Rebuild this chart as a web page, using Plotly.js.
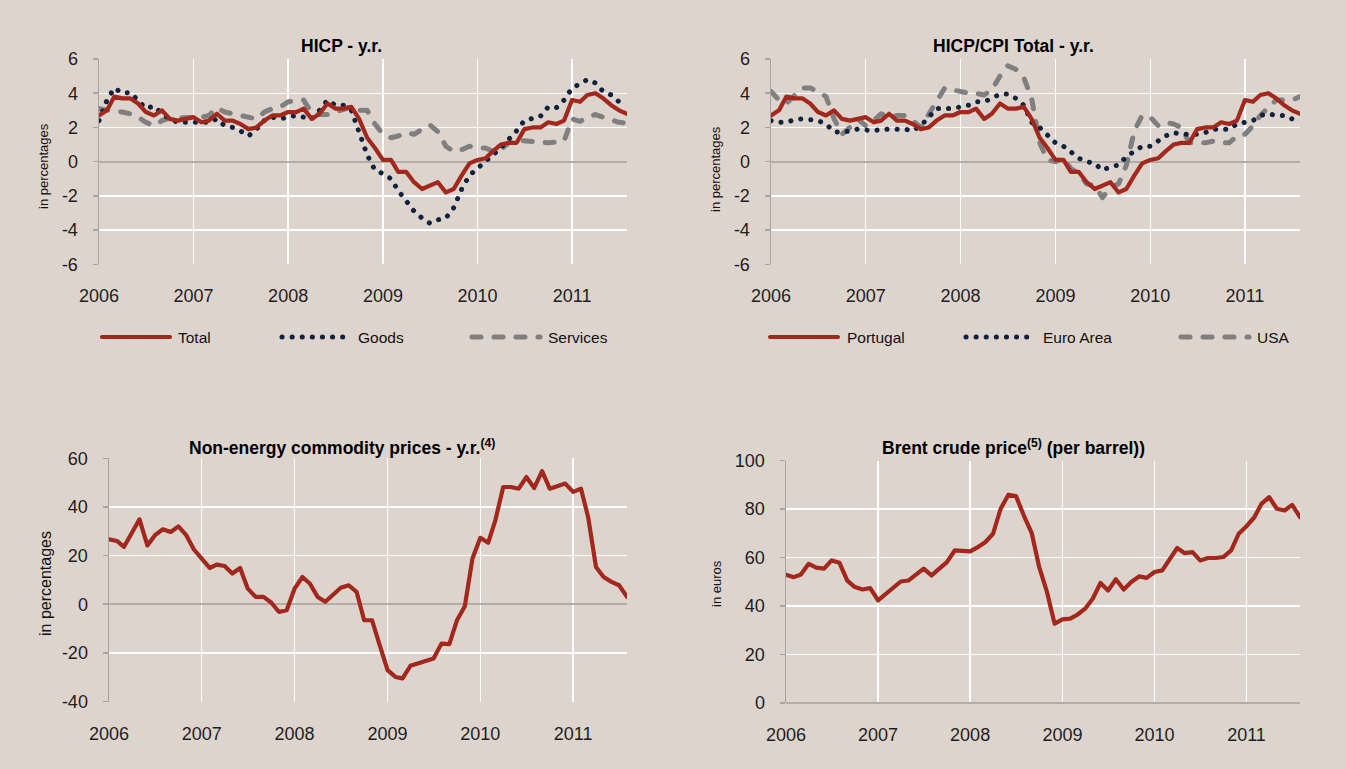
<!DOCTYPE html>
<html>
<head>
<meta charset="utf-8">
<script src="https://cdn.plot.ly/plotly-3.0.1.min.js"></script>
<style>
  html, body { margin: 0; padding: 0; background: #DED4CE; }
  #chart { width: 1345px; height: 769px; }
  .js-line, .shapelayer path { stroke-linecap: round !important; stroke-linejoin: round !important; }
</style>
</head>
<body>
<div id="chart"></div>
<script>
// ---------- data (monthly, Jan 2006 – Aug 2011) ----------
const months = [];
for (let y = 2006; y <= 2011; y++) {
  for (let m = 1; m <= 12; m++) {
    if (y === 2011 && m > 8) break;
    months.push(y + '-' + String(m).padStart(2, '0') + '-01');
  }
}
const yearTicks = ['2006-01-01','2007-01-01','2008-01-01','2009-01-01','2010-01-01','2011-01-01'];
const yearLabels = ['2006','2007','2008','2009','2010','2011'];

const hicpTotal = [2.7,3.0,3.8,3.7,3.7,3.4,2.9,2.7,3.0,2.5,2.4,2.5,
  2.6,2.3,2.4,2.8,2.4,2.4,2.2,1.9,2.0,2.4,2.7,2.7,
  2.9,2.9,3.1,2.5,2.8,3.4,3.1,3.1,3.2,2.5,1.4,0.8,
  0.1,0.1,-0.6,-0.6,-1.2,-1.6,-1.4,-1.2,-1.8,-1.6,-0.8,-0.1,
  0.1,0.2,0.6,1.0,1.1,1.1,1.9,2.0,2.0,2.3,2.2,2.4,
  3.6,3.5,3.9,4.0,3.7,3.3,3.0,2.8];
const hicpGoods = [2.4,3.6,4.3,4.0,4.05,3.6,3.1,3.25,2.8,2.5,2.3,2.3,
  2.3,2.3,2.3,2.5,2.1,2.0,1.8,1.5,1.9,2.4,2.6,2.5,
  2.6,2.7,2.6,2.5,3.0,3.6,3.3,3.3,3.0,1.8,0.4,-0.5,
  -0.7,-1.0,-1.7,-2.3,-2.9,-3.3,-3.6,-3.4,-3.3,-2.7,-1.6,-0.8,
  -0.4,-0.05,0.35,0.8,1.3,1.8,2.4,2.55,2.65,3.2,3.15,3.6,
  4.3,4.55,4.8,4.6,4.1,3.9,3.5,3.3];
const hicpServices = [3.1,3.0,2.95,2.9,2.8,2.6,2.3,2.1,2.4,2.55,2.55,2.55,
  2.6,2.6,2.7,3.15,2.9,2.8,2.65,2.55,2.5,2.9,3.1,3.2,
  3.5,3.55,3.6,2.85,2.75,2.75,2.9,3.1,3.2,3.0,3.0,2.2,
  1.6,1.4,1.5,1.7,1.6,1.9,2.15,1.75,0.9,0.6,0.7,0.9,
  0.8,0.8,0.6,0.7,1.1,1.25,1.2,1.2,1.15,1.1,1.15,1.2,
  2.5,2.35,2.6,2.75,2.6,2.45,2.3,2.25];

const portugal = hicpTotal;
const euroArea = [2.4,2.3,2.3,2.45,2.5,2.45,2.4,2.2,1.75,1.7,1.8,1.9,
  1.85,1.8,1.9,1.9,1.9,1.9,1.8,2.1,2.6,3.1,3.1,3.1,
  3.2,3.3,3.5,3.5,3.7,3.95,3.95,3.7,3.3,2.3,2.0,1.55,
  1.1,0.9,0.6,0.2,0.0,-0.1,-0.5,-0.3,-0.2,0.3,0.6,0.9,
  0.9,1.2,1.5,1.7,1.6,1.6,1.6,1.7,1.9,1.9,1.9,2.2,
  2.3,2.4,2.7,2.8,2.7,2.7,2.5,2.5];
const usa = [4.1,3.6,3.4,3.9,4.3,4.3,4.1,3.8,2.5,1.6,2.0,2.5,
  2.1,2.4,2.8,2.6,2.7,2.7,2.4,2.0,2.8,3.5,4.3,4.2,
  4.1,4.0,4.0,3.9,4.2,5.0,5.6,5.4,4.9,3.7,1.1,0.1,
  0.0,0.2,-0.4,-0.7,-1.3,-1.4,-2.1,-1.5,-1.3,-0.2,1.8,2.7,
  2.6,2.1,2.3,2.2,2.0,1.1,1.1,1.1,1.2,1.1,1.1,1.5,
  1.6,2.1,2.7,3.2,3.6,3.6,3.6,3.8];

const nonEnergy = [26.7,26.0,23.6,29.0,34.9,24.2,28.4,30.8,29.7,32.0,28.4,22.5,
  18.5,14.9,16.3,15.7,12.6,14.9,6.4,3.0,3.0,0.7,-3.2,-2.5,
  6.4,11.2,8.5,3.0,1.0,4.0,6.8,7.8,5.1,-6.6,-6.6,-16.8,
  -27.1,-29.9,-30.5,-25.3,-24.4,-23.4,-22.3,-16.2,-16.4,-6.6,-0.8,18.8,
  27.3,25.3,34.5,48.2,48.2,47.5,52.3,47.8,54.7,47.5,48.6,49.6,
  46.2,47.5,35.9,15.3,11.2,9.2,7.8,3.0];
const brent = [52.9,51.9,53.0,57.4,55.8,55.4,58.8,57.8,50.5,47.8,46.8,47.4,
  42.3,45.1,47.8,50.1,50.5,52.9,55.4,52.6,55.4,58.1,62.9,62.9,
  62.5,64.3,66.3,69.8,80.1,85.9,85.3,77.3,70.2,56.0,45.7,32.7,
  34.5,34.8,36.4,38.9,43.0,49.5,46.4,51.0,46.8,49.9,52.2,51.6,
  54.0,54.7,59.2,63.9,61.8,62.2,58.8,59.8,59.8,60.2,62.9,69.8,
  72.9,76.6,82.1,84.9,80.1,79.4,81.7,76.6];

const ticksSmall = [-6,-4,-2,0,2,4,6];
const ticksSmallText = ['-6','-4','-2','0','2','4','6'];
const ticksComm = [-40,-20,0,20,40,60];
const ticksCommText = ['-40','-20','0','20','40','60'];
const ticksBrent = [0,20,40,60,80,100];
const ticksBrentText = ['0','20','40','60','80','100'];

// ---------- styling ----------
const W = 1345, H = 769;
const BG = '#DED4CE';
const RED = '#A2281D', NAVY = '#10223E', GREY = '#7F7F7F';
const FONT = 'Liberation Sans, Arial, sans-serif';
const px = p => p / W;
const py = p => 1 - p / H;

const solid = {color: RED, width: 4.2};
const dotted = {color: NAVY, width: 5, dash: '0.1px,10px'};
const dashed = {color: GREY, width: 5, dash: '9px,13px'};

function tr(x, y, line, xa, ya, name) {
  return {x: x, y: y, type: 'scatter', mode: 'lines', line: line, xaxis: xa, yaxis: ya, name: name, hoverinfo: 'skip'};
}

const data = [
  tr(months, hicpServices, dashed, 'x', 'y', 'Services'),
  tr(months, hicpGoods, dotted, 'x', 'y', 'Goods'),
  tr(months, hicpTotal, solid, 'x', 'y', 'Total'),
  tr(months, usa, dashed, 'x2', 'y2', 'USA'),
  tr(months, euroArea, dotted, 'x2', 'y2', 'Euro Area'),
  tr(months, portugal, solid, 'x2', 'y2', 'Portugal'),
  tr(months, nonEnergy, solid, 'x3', 'y3', 'Non-energy'),
  tr(months, brent, solid, 'x4', 'y4', 'Brent')
];

function xax(x0, x1, anchor) {
  return {
    domain: [px(x0), px(x1)], anchor: anchor, type: 'date',
    range: ['2006-01-01', '2011-08-01'],
    tickmode: 'array', tickvals: yearTicks, ticktext: yearLabels,
    showgrid: true, gridcolor: '#FFFFFF', gridwidth: 1.3,
    zeroline: false, showline: false, ticks: '',
    tickfont: {family: FONT, size: 18, color: '#1E1E1E'},
    ticklabelstandoff: 19, fixedrange: true
  };
}
function yax(y0, y1, anchor, range, tv, tt) {
  return {
    domain: [py(y1), py(y0)], anchor: anchor, range: range,
    tickmode: 'array', tickvals: tv, ticktext: tt,
    showgrid: true, gridcolor: '#FFFFFF', gridwidth: 1.3,
    zeroline: true, zerolinecolor: '#B3ACA7', zerolinewidth: 2,
    showline: true, linecolor: '#A8A4A1', linewidth: 1.5,
    ticks: 'outside', ticklen: 5, tickcolor: '#A8A4A1', tickwidth: 1.5,
    tickfont: {family: FONT, size: 18, color: '#1E1E1E'},
    ticklabelstandoff: 11, fixedrange: true
  };
}

function ann(text, x, y, size, opts) {
  return Object.assign({text: text, x: px(x), y: py(y), xref: 'paper', yref: 'paper',
    showarrow: false, xanchor: 'center', yanchor: 'middle',
    font: {family: FONT, size: size, color: '#111111'}}, opts || {});
}
function title(text, x, y) {
  return ann('<b>' + text + '</b>', x, y, 17.5, {font: {family: FONT, size: 17.5, color: '#000000'}});
}
function ytitle(text, x, y, size) {
  return ann(text, x, y, size, {textangle: -90});
}
function legText(text, x, y) {
  return ann(text, x, y, 15.5, {xanchor: 'left'});
}
function legLine(x0, x1, y, line) {
  return {type: 'line', xref: 'paper', yref: 'paper', x0: px(x0), x1: px(x1), y0: py(y), y1: py(y), line: line};
}

const layout = {
  width: W, height: H, margin: {l: 0, r: 0, t: 0, b: 0},
  paper_bgcolor: BG, plot_bgcolor: BG, showlegend: false,
  xaxis: xax(99, 627, 'y'),
  yaxis: yax(59, 264.3, 'x', [-6, 6], ticksSmall, ticksSmallText),
  xaxis2: xax(771, 1300, 'y2'),
  yaxis2: yax(59, 264.3, 'x2', [-6, 6], ticksSmall, ticksSmallText),
  xaxis3: xax(109, 627, 'y3'),
  yaxis3: yax(458.3, 701.5, 'x3', [-40, 60], ticksComm, ticksCommText),
  xaxis4: xax(786, 1300, 'y4'),
  yaxis4: yax(460.5, 703, 'x4', [0, 100], ticksBrent, ticksBrentText),
  annotations: [
    title('HICP - y.r.', 341, 46),
    title('HICP/CPI Total - y.r.', 1013, 46),
    title('Non-energy commodity prices - y.r.<sup>(4)</sup>', 342, 447),
    title('Brent crude price<sup>(5)</sup> (per barrel))', 1013, 447),
    ytitle('in percentages', 43, 166, 13),
    ytitle('in percentages', 716, 169, 13),
    ytitle('in percentages', 45, 583, 16),
    ytitle('in euros', 716, 584, 13),
    legText('Total', 176, 337),
    legText('Goods', 356, 337),
    legText('Services', 546, 337),
    legText('Portugal', 845, 337),
    legText('Euro Area', 1041, 337),
    legText('USA', 1255, 337)
  ],
  shapes: [
    legLine(102, 170, 337, solid),
    legLine(282, 350, 337, dotted),
    legLine(472, 540, 337, dashed),
    legLine(770, 838, 337, solid),
    legLine(966, 1034, 337, dotted),
    legLine(1181, 1249, 337, dashed)
  ]
};

Plotly.newPlot('chart', data, layout, {displayModeBar: false, staticPlot: true});
</script>
</body>
</html>
